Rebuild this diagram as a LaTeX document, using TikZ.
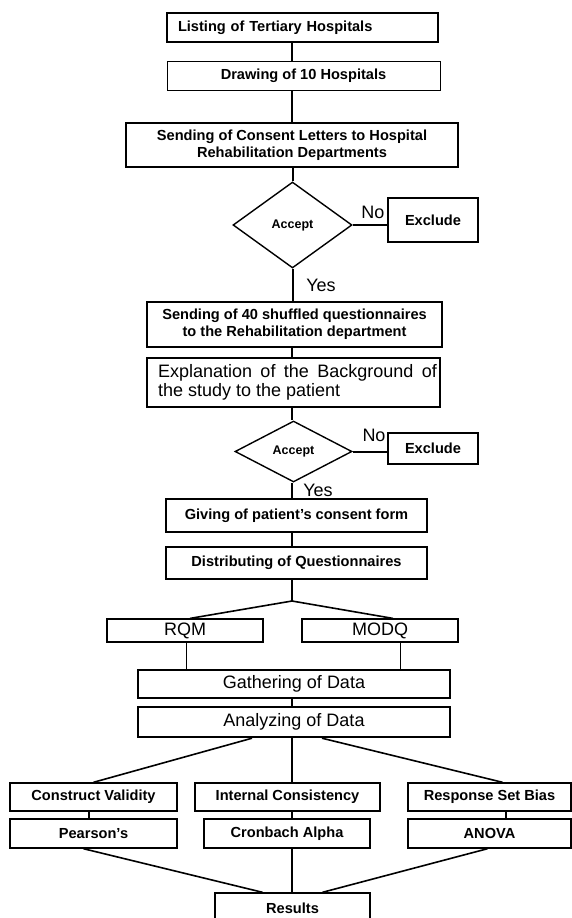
\documentclass[tikz,border=0pt]{standalone}
\usepackage{fontspec}
\setmainfont{Liberation Sans}
\usetikzlibrary{shapes.geometric}
\newcommand\fsm{\fontsize{14.6}{17}\selectfont\bfseries}
\newcommand\flg{\fontsize{18}{19.5}\selectfont}
\begin{document}
\begin{tikzpicture}[x=1pt,y=-1pt,
  box/.style={draw, rectangle, inner sep=0pt, line width=1.4pt, font=\fsm, align=center},
  thinbox/.style={box, line width=1pt},
  heavybox/.style={box, line width=2.4pt},
  bigbox/.style={box, font=\flg},
  choice/.style={draw, diamond, inner sep=0pt, line width=1.4pt, font=\fontsize{12.5}{14}\selectfont\bfseries},
  link/.style={line width=2pt},
  slant/.style={line width=1.6pt},
  thinlink/.style={line width=1pt},
  tag/.style={font=\flg, inner sep=0pt}
]
\clip (0,0) rectangle (572,918);
\coordinate (sp) at (292,0);

% boxes of the flow
\node[heavybox, align=left, text width=249pt, inner xsep=11pt, minimum height=29] (list) at (302.5,27.5) {Listing of Tertiary Hospitals};
\node[thinbox, minimum width=273, minimum height=29] (draw10) at (303.5,75.5) {Drawing of 10 Hospitals};
\node[box, minimum width=332, minimum height=44] (letters) at (292,145) {Sending of Consent Letters to Hospital\\Rehabilitation Departments};
\node[choice, minimum width=119, minimum height=86, aspect=1.38] (acc1) at (292.5,225) {Accept};
\node[box, minimum width=90, minimum height=44] (ex1) at (433,220) {Exclude};
\node[box, minimum width=295, minimum height=45] (send40) at (294.5,324.5) {Sending of 40 shuffled questionnaires\\to the Rehabilitation department};
\node[heavybox, minimum width=293, minimum height=49,
  label={[font=\flg, align=justify, text width=279pt, inner sep=0pt, xshift=4pt]center:Explanation of the Background of the study to the patient}] (explain) at (293.5,382.5) {};
\node[choice, minimum width=117, minimum height=61, aspect=1.92] (acc2) at (293.5,451.5) {Accept};
\node[box, minimum width=90, minimum height=31] (ex2) at (433,448.5) {Exclude};
\node[box, line width=1.2pt, minimum width=261, minimum height=33] (consent) at (296.5,515.5) {Giving of patient's consent form};
\node[box, line width=1.2pt, minimum width=261, minimum height=32] (distrib) at (296.5,563) {Distributing of Questionnaires};
\node[bigbox, line width=1.2pt, minimum width=156, minimum height=23] (rqm) at (185,630.5) {RQM};
\node[bigbox, line width=1.2pt, minimum width=156, minimum height=23] (modq) at (380,630.5) {MODQ};
\node[bigbox, minimum width=312, minimum height=28] (gather) at (294,684) {Gathering of Data};
\node[heavybox, font=\flg, minimum width=312, minimum height=30] (analyze) at (294,722) {Analyzing of Data};
\node[box, minimum width=167, minimum height=28] (construct) at (93.5,797) {Construct Validity};
\node[box, minimum width=185, minimum height=28] (internal) at (287.5,797) {Internal Consistency};
\node[box, minimum width=163, minimum height=28] (bias) at (489.5,797) {Response Set Bias};
\node[box, minimum width=167, minimum height=29] (pearson) at (93.5,833.5) {Pearson's};
\node[box, minimum width=166, minimum height=29] (cronbach) at (287,833.5) {Cronbach Alpha};
\node[box, minimum width=163, minimum height=29] (anova) at (489.5,833.5) {ANOVA};
\node[box, minimum width=155, minimum height=30] (results) at (292.5,908) {Results};

% decision labels
\node[tag] (no1) at (373,212) {No};
\node[tag] (yes1) at (321,285) {Yes};
\node[tag] (no2) at (374,435) {No};
\node[tag] (yes2) at (318,490) {Yes};

% connectors
\draw[link] (list.south -| sp) -- (draw10.north -| sp);
\draw[link] (draw10.south -| sp) -- (letters.north -| sp);
\draw[link] (letters.south -| acc1.north) -- (acc1.north);
\draw[link] (acc1.east) -- (acc1.east -| ex1.west);
\draw[link] (acc1.south) -- (send40.north -| acc1.south);
\draw[link] (send40.south -| sp) -- (explain.north -| sp);
\draw[link] (explain.south -| sp) -- (acc2.north -| sp);
\draw[link] (acc2.east) -- (acc2.east -| ex2.west);
\draw[link] (acc2.south -| sp) -- (consent.north -| sp);
\draw[link] (consent.south -| sp) -- (distrib.north -| sp);
\coordinate (fork) at (292,601);
\draw[link] (distrib.south -| sp) -- (fork);
\draw[slant] (fork) -- ([xshift=5pt]rqm.north);
\draw[slant] (fork) -- ([xshift=13pt]modq.north);
\draw[thinlink] ([xshift=1pt]rqm.south) -- ([xshift=1pt]rqm.south |- gather.north);
\draw[thinlink] ([xshift=20pt]modq.south) -- ([xshift=20pt]modq.south |- gather.north);
\draw[link] (gather.south -| sp) -- (analyze.north -| sp);
\draw[link] (analyze.south -| sp) -- (internal.north -| sp);
\draw[slant] ([xshift=-42pt]analyze.south) -- (construct.north);
\draw[slant] ([xshift=28pt]analyze.south) -- ([xshift=13pt]bias.north);
\draw[link] ([xshift=-5pt]construct.south) -- ([xshift=-5pt]pearson.north);
\draw[link] (internal.south -| sp) -- (cronbach.north -| sp);
\draw[link] ([xshift=16pt]bias.south) -- ([xshift=16pt]anova.north);
\draw[slant] ([xshift=-10pt]pearson.south) -- ([xshift=-30pt]results.north);
\draw[link] (cronbach.south -| sp) -- (results.north -| sp);
\draw[slant] ([xshift=-2pt]anova.south) -- ([xshift=30pt]results.north);
\end{tikzpicture}
\end{document}
